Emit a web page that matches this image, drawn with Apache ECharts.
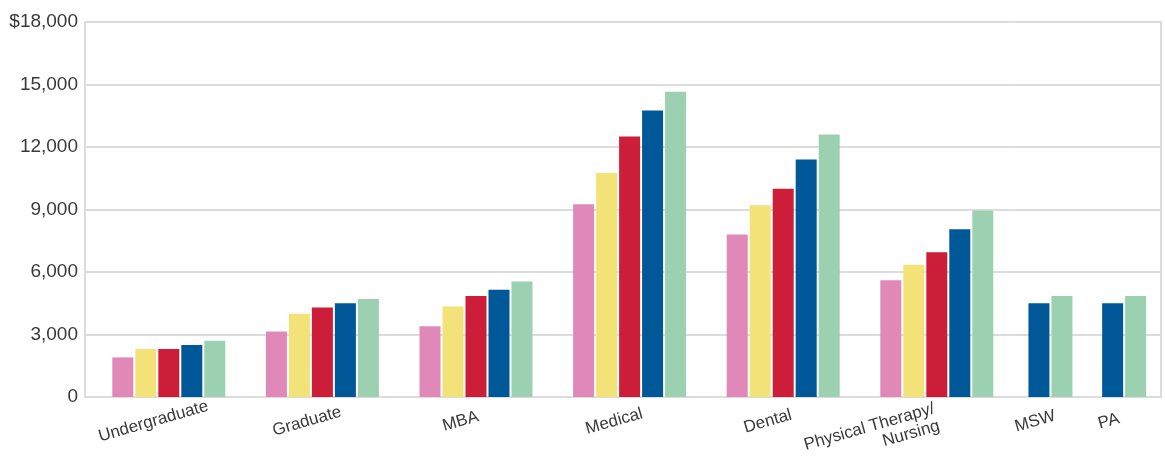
<!DOCTYPE html>
<html>
<head>
<meta charset="utf-8">
<script src="https://cdn.jsdelivr.net/npm/echarts@6/dist/echarts.min.js"></script>
<style>
html,body{margin:0;padding:0;background:#fff;}
#chart{width:1165px;height:460px;}
</style>
</head>
<body>
<div id="chart"></div>
<script>
// ---- data ----
const categories = ['Undergraduate', 'Graduate', 'MBA', 'Medical', 'Dental', 'Physical Therapy/\nNursing', 'MSW', 'PA'];
const seriesNames = ['Series 1', 'Series 2', 'Series 3', 'Series 4', 'Series 5'];
const pinkValues   = [1900, 3150, 3400,  9250,  7800, 5600, null, null];
const yellowValues = [2300, 4000, 4350, 10750,  9200, 6350, null, null];
const redValues    = [2300, 4300, 4850, 12500, 10000, 6950, null, null];
const blueValues   = [2500, 4500, 5150, 13750, 11400, 8050, 4500, 4500];
const greenValues  = [2700, 4700, 5550, 14650, 12600, 8950, 4850, 4850];
const yTicks = [0, 3000, 6000, 9000, 12000, 15000, 18000];
const yTickLabels = ['0', '3,000', '6,000', '9,000', '12,000', '15,000', '$18,000'];

// ---- chart ----
const FULL = 6; // categories with five bars
const catA = categories.slice(0, FULL);
const catB = categories.slice(FULL);
const allValues = [pinkValues, yellowValues, redValues, blueValues, greenValues];
const colors = ['#E088B8', '#F2E277', '#CC1E38', '#005898', '#9BD1B0'];

const FONT = '"Liberation Sans", Arial, sans-serif';
const TXT = '#3a3a3a';
const LINE = '#dcdcdc';
const TOP = 22, BOTTOM = 63;

function yAxisBase(gi, extra) {
  return Object.assign({
    type: 'value', gridIndex: gi, min: yTicks[0], max: yTicks[yTicks.length - 1],
    interval: yTicks[1] - yTicks[0],
    axisLabel: { show: false },
    axisTick: { show: false },
    axisLine: { show: false },
    splitLine: { show: true, lineStyle: { color: LINE, width: 2 } }
  }, extra || {});
}

const labelBase = {
  interval: 0, rotate: 16, align: 'center', verticalAlign: 'middle',
  margin: 20, padding: [0, 32, 0, 0],
  color: TXT, fontSize: 17, fontFamily: FONT, lineHeight: 18
};

function catData(list) {
  return list.map(c => c.indexOf('\n') >= 0
    ? { value: c, textStyle: { align: 'right', padding: 0 } }
    : c);
}

const series = [];
allValues.forEach((vals, i) => {
  series.push({
    name: seriesNames[i], type: 'bar', xAxisIndex: 1, yAxisIndex: 1,
    data: vals.slice(0, FULL), barWidth: 21, barGap: '9.5%',
    itemStyle: { color: colors[i] }, silent: true
  });
  const rest = vals.slice(FULL);
  if (rest.some(v => v != null)) {
    series.push({
      name: seriesNames[i], type: 'bar', xAxisIndex: 2, yAxisIndex: 2,
      data: rest, barWidth: 21, barGap: '9.5%',
      itemStyle: { color: colors[i] }, silent: true
    });
  }
});

const gridBase = { top: TOP, bottom: BOTTOM, containLabel: false, outerBoundsMode: 'none' };

const chart = echarts.init(document.getElementById('chart'), null, { renderer: 'canvas' });
chart.setOption({
  animation: false,
  backgroundColor: '#ffffff',
  textStyle: { fontFamily: FONT },
  grid: [
    Object.assign({ left: 85, width: 7 }, gridBase),
    Object.assign({ left: 92, right: 151.4 }, gridBase),
    Object.assign({ left: 1013.6, right: 4 }, gridBase)
  ],
  xAxis: [
    { type: 'value', gridIndex: 0, min: 0, max: 1,
      axisLabel: { show: false }, axisTick: { show: false }, splitLine: { show: false },
      axisLine: { show: true, lineStyle: { color: LINE, width: 2 } } },
    { type: 'category', gridIndex: 1, data: catData(catA),
      axisTick: { show: false }, axisLine: { show: true, lineStyle: { color: LINE, width: 2 } },
      axisLabel: labelBase },
    { type: 'category', gridIndex: 2, data: catData(catB),
      axisTick: { show: false }, axisLine: { show: true, lineStyle: { color: LINE, width: 2 } },
      axisLabel: labelBase }
  ],
  yAxis: [
    yAxisBase(0, {
      axisLine: { show: true, lineStyle: { color: LINE, width: 2 } },
      axisLabel: {
        show: true, margin: 7, color: TXT, fontSize: 19, fontFamily: FONT,
        formatter: v => { const k = yTicks.indexOf(v); return k >= 0 ? yTickLabels[k] : ''; }
      }
    }),
    yAxisBase(1),
    yAxisBase(2, { position: 'right', axisLine: { show: true, lineStyle: { color: LINE, width: 2 } } })
  ],
  series: series
});
</script>
</body>
</html>
